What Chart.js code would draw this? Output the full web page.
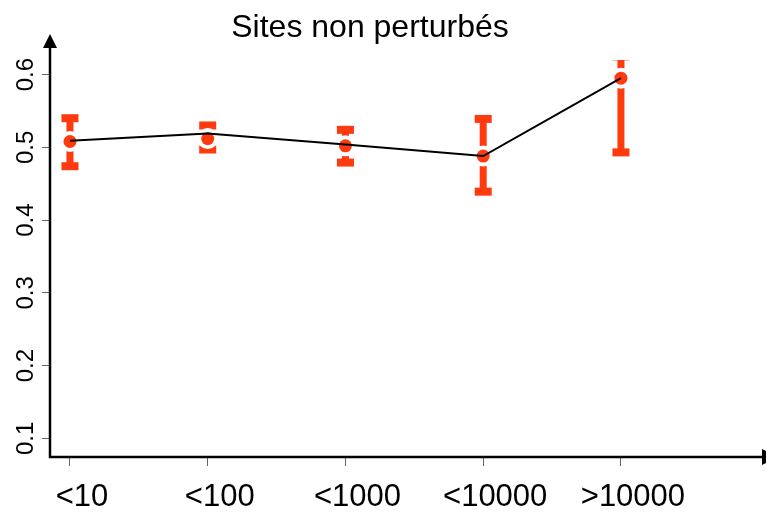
<!DOCTYPE html>
<html>
<head>
<meta charset="utf-8">
<script src="https://cdn.jsdelivr.net/npm/chart.js@4"></script>
<style>
html, body { margin: 0; padding: 0; background: #fff; }
</style>
</head>
<body>
<canvas id="myChart" width="766" height="512"></canvas>
<script>
const title = "Sites non perturbés";
const categories = ["<10", "<100", "<1000", "<10000", ">10000"];
const lineValues = [0.509, 0.519, 0.504, 0.488, 0.595];
const pointValues = [0.508, 0.512, 0.502, 0.488, 0.595];
const upperValues = [0.540, 0.530, 0.524, 0.539, 0.625];
const lowerValues = [0.474, 0.497, 0.479, 0.439, 0.493];
const yTicks = [0.1, 0.2, 0.3, 0.4, 0.5, 0.6];
const yTickLabels = ["0.1", "0.2", "0.3", "0.4", "0.5", "0.6"];

const red = "#ff3a0f";
const font = '"Liberation Sans", Arial, sans-serif';

const ctx = document.getElementById("myChart");

// error bars + white halo under the dots, axes with arrows, rotated y labels and title on top
const extras = {
  id: "extras",
  beforeDatasetsDraw(chart) {
    const { ctx, chartArea, scales: { x, y } } = chart;
    ctx.save();
    ctx.beginPath();
    ctx.rect(chartArea.left, chartArea.top, chartArea.right - chartArea.left, chartArea.bottom - chartArea.top);
    ctx.clip();
    categories.forEach((c, i) => {
      const px = x.getPixelForValue(i + 1);
      const top = y.getPixelForValue(upperValues[i]);
      const bot = y.getPixelForValue(lowerValues[i]);
      const mid = y.getPixelForValue(pointValues[i]);
      ctx.fillStyle = red;
      ctx.fillRect(px - 3.5, top, 7, bot - top);
      ctx.fillRect(px - 8.5, top - 4, 17, 8);
      ctx.fillRect(px - 8.5, bot - 4, 17, 8);
      ctx.fillStyle = "#fff";
      ctx.beginPath();
      ctx.arc(px, mid, 10.5, 0, Math.PI * 2);
      ctx.fill();
    });
    ctx.restore();
  },
  afterDraw(chart) {
    const { ctx, chartArea, scales: { y } } = chart;
    const left = chartArea.left, bottom = chartArea.bottom;
    ctx.save();
    ctx.strokeStyle = "#000";
    ctx.fillStyle = "#000";
    ctx.lineWidth = 2.5;
    ctx.beginPath();
    ctx.moveTo(left, bottom + 1.2);
    ctx.lineTo(left, 46);
    ctx.moveTo(left - 1.2, bottom);
    ctx.lineTo(764, bottom);
    ctx.stroke();
    ctx.beginPath();
    ctx.moveTo(left, 34);
    ctx.lineTo(left - 7, 48);
    ctx.lineTo(left + 7, 48);
    ctx.closePath();
    ctx.fill();
    ctx.beginPath();
    ctx.moveTo(778, bottom);
    ctx.lineTo(762, bottom - 8);
    ctx.lineTo(762, bottom + 8);
    ctx.closePath();
    ctx.fill();

    ctx.font = "24px " + font;
    ctx.textAlign = "center";
    ctx.textBaseline = "alphabetic";
    y.ticks.forEach((t, i) => {
      ctx.save();
      ctx.translate(33, y.getPixelForValue(t.value));
      ctx.rotate(-Math.PI / 2);
      ctx.fillText(yTickLabels[i], 0, 0);
      ctx.restore();
    });

    ctx.font = "32px " + font;
    ctx.fillText(title, 370, 37);
    ctx.restore();
  }
};

new Chart(ctx, {
  type: "line",
  data: {
    datasets: [
      {
        data: lineValues.map((v, i) => ({ x: i + 1, y: v })),
        borderColor: "#000",
        borderWidth: 2,
        pointRadius: 0,
        fill: false,
        tension: 0,
      },
      {
        data: pointValues.map((v, i) => ({ x: i + 1, y: v })),
        showLine: false,
        pointRadius: 6.5,
        pointBackgroundColor: red,
        pointBorderWidth: 0,
      },
    ],
  },
  options: {
    responsive: false,
    animation: false,
    events: [],
    layout: {
      padding: { top: 60, left: 0, right: 0, bottom: 0 },
    },
    plugins: {
      legend: { display: false },
      tooltip: { enabled: false },
    },
    scales: {
      x: {
        type: "linear",
        min: 0.855,
        max: 6.006,
        afterBuildTicks: (scale) => {
          scale.ticks = categories.map((c, i) => ({ value: i + 1 }));
        },
        afterFit: (scale) => { scale.height = 55; },
        border: { display: false },
        grid: {
          drawOnChartArea: false,
          tickLength: 9,
          color: "#666",
          lineWidth: 1,
        },
        ticks: {
          autoSkip: false,
          maxRotation: 0,
          padding: 13,
          labelOffset: 12,
          color: "#000",
          font: { family: font, size: 31 },
          callback: (v) => categories[v - 1],
        },
      },
      y: {
        min: 0.0743,
        max: 0.62,
        afterBuildTicks: (scale) => {
          scale.ticks = yTicks.map((v) => ({ value: v }));
        },
        afterFit: (scale) => { scale.width = 50; },
        border: { display: false },
        grid: {
          drawOnChartArea: false,
          tickLength: 8,
          color: "#666",
          lineWidth: 1,
        },
        ticks: { display: false },
      },
    },
  },
  plugins: [extras],
});
</script>
</body>
</html>
